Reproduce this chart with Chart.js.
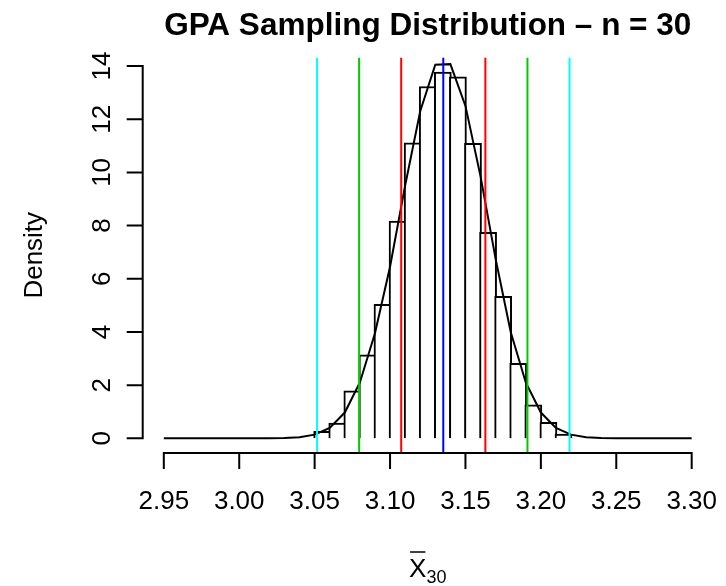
<!DOCTYPE html>
<html>
<head>
<meta charset="utf-8">
<script src="https://cdn.jsdelivr.net/npm/chart.js@4.4.1/dist/chart.umd.min.js"></script>
<style>
  html, body { margin: 0; padding: 0; background: #ffffff; }
  #wrap { width: 726px; height: 586px; }
</style>
</head>
<body>
<div id="wrap"><canvas id="c" width="726" height="586"></canvas></div>
<script>
// ---------------- data ----------------
const titleText = "GPA Sampling Distribution \u2013 n = 30";
const yTitle = "Density";

// histogram: bin midpoints (width 0.01) and densities
const binMids = [3.055, 3.065, 3.075, 3.085, 3.095, 3.105, 3.115, 3.125, 3.135,
                 3.145, 3.155, 3.165, 3.175, 3.185, 3.195, 3.205, 3.215];
const binDensity = [0.26, 0.57, 1.79, 3.14, 5.04, 8.17, 11.11, 13.23, 13.77,
                    13.59, 11.09, 7.75, 5.34, 2.82, 1.26, 0.60, 0.16];

// density curve points
const curveX = [2.95, 2.96, 2.97, 2.98, 2.99, 3.00, 3.01, 3.02, 3.03, 3.04, 3.05, 3.06,
                3.07, 3.08, 3.09, 3.10, 3.11, 3.12, 3.13, 3.14, 3.15, 3.16, 3.17, 3.18,
                3.19, 3.20, 3.21, 3.22, 3.23, 3.24, 3.25, 3.26, 3.27, 3.28, 3.29, 3.30];
const curveY = [0, 0, 0, 0, 0, 0, 0, 0.003, 0.012, 0.045, 0.14, 0.39,
                0.97, 2.10, 3.95, 6.45, 9.50, 12.30, 14.05, 14.07, 12.50, 9.85, 6.75, 4.00,
                2.10, 0.97, 0.39, 0.14, 0.045, 0.012, 0.003, 0, 0, 0, 0, 0];

// reference lines: mean -3sd .. mean +3sd
const refLines = [3.0516, 3.0795, 3.1074, 3.1353, 3.1632, 3.1911, 3.2190];

// ticks
const xTicks = [2.95, 3.00, 3.05, 3.10, 3.15, 3.20, 3.25, 3.30];
const xTickLabels = ["2.95", "3.00", "3.05", "3.10", "3.15", "3.20", "3.25", "3.30"];
const yTicks = [0, 2, 4, 6, 8, 10, 12, 14];
const yTickLabels = ["0", "2", "4", "6", "8", "10", "12", "14"];

// ---------------- styling ----------------
const refColors = ["#00FFFF", "#00CD00", "#FF0000", "#0000FF", "#FF0000", "#00CD00", "#00FFFF"];
const FONT = '"Liberation Sans", Arial, Helvetica, sans-serif';
const X_MIN = 2.936, X_MAX = 3.314, Y_MIN = -0.551, Y_MAX = 14.32;
const PAD = {left: 142.7, right: 13.2, top: 57.5, bottom: 133};
const BIN_W = 0.01;
const LW = 2;
// bar thickness: one bin in pixels plus one line width so neighbouring borders coincide
const barPx = BIN_W * (726 - PAD.left - PAD.right) / (X_MAX - X_MIN) + LW;

const datasets = [];
refLines.forEach((v, i) => {
  datasets.push({
    type: 'line',
    data: [{x: v, y: Y_MIN}, {x: v, y: Y_MAX}],
    borderColor: refColors[i],
    borderWidth: LW,
    pointRadius: 0,
    order: 0
  });
});
datasets.push({
  type: 'line',
  data: curveX.map((v, i) => ({x: v, y: curveY[i]})),
  borderColor: '#000000',
  borderWidth: LW,
  pointRadius: 0,
  tension: 0,
  order: 1
});
datasets.push({
  type: 'bar',
  data: binMids.map((v, i) => ({x: v, y: binDensity[i]})),
  backgroundColor: '#ffffff',
  borderColor: '#000000',
  borderWidth: {top: LW, left: LW, right: LW, bottom: 0},
  borderSkipped: false,
  barThickness: barPx,
  order: 2
});

const rAxes = {
  id: 'rAxes',
  afterDraw(chart) {
    const {ctx, chartArea: a, scales: {x, y}} = chart;
    ctx.save();
    ctx.strokeStyle = '#000';
    ctx.fillStyle = '#000';
    ctx.lineWidth = LW;
    ctx.lineCap = 'square';
    // x axis
    const yb = a.bottom;
    ctx.beginPath();
    ctx.moveTo(x.getPixelForValue(xTicks[0]), yb);
    ctx.lineTo(x.getPixelForValue(xTicks[xTicks.length - 1]), yb);
    xTicks.forEach(v => {
      const p = x.getPixelForValue(v);
      ctx.moveTo(p, yb); ctx.lineTo(p, yb + 15);
    });
    ctx.stroke();
    // y axis
    const xl = a.left;
    ctx.beginPath();
    ctx.moveTo(xl, y.getPixelForValue(yTicks[0]));
    ctx.lineTo(xl, y.getPixelForValue(yTicks[yTicks.length - 1]));
    yTicks.forEach(v => {
      const p = y.getPixelForValue(v);
      ctx.moveTo(xl, p); ctx.lineTo(xl - 15, p);
    });
    ctx.stroke();

    // x tick labels
    ctx.font = '26px ' + FONT;
    ctx.textAlign = 'center';
    ctx.textBaseline = 'alphabetic';
    xTicks.forEach((v, i) => {
      ctx.fillText(xTickLabels[i], x.getPixelForValue(v), 509);
    });
    // y tick labels (rotated)
    yTicks.forEach((v, i) => {
      ctx.save();
      ctx.translate(110, y.getPixelForValue(v));
      ctx.rotate(-Math.PI / 2);
      ctx.fillText(yTickLabels[i], 0, 0);
      ctx.restore();
    });
    // y title
    ctx.save();
    ctx.translate(42, (a.top + a.bottom) / 2);
    ctx.rotate(-Math.PI / 2);
    ctx.fillText(yTitle, 0, 0);
    ctx.restore();

    // x title: X-bar with subscript 30
    const cx = (a.left + a.right) / 2;
    ctx.font = '26px ' + FONT;
    const wX = ctx.measureText('X').width;
    ctx.font = '18px ' + FONT;
    const wS = ctx.measureText('30').width;
    const x0 = cx - (wX + wS) / 2;
    ctx.textAlign = 'left';
    ctx.font = '26px ' + FONT;
    ctx.fillText('X', x0, 577);
    ctx.font = '18px ' + FONT;
    ctx.fillText('30', x0 + wX, 583);
    ctx.lineWidth = 1.5;
    ctx.lineCap = 'butt';
    ctx.beginPath();
    ctx.moveTo(x0 + 1, 552);
    ctx.lineTo(x0 + wX - 1, 552);
    ctx.stroke();

    // main title
    ctx.font = 'bold 31.5px ' + FONT;
    ctx.textAlign = 'center';
    ctx.fillText(titleText, cx, 35);
    ctx.restore();
  }
};

new Chart(document.getElementById('c'), {
  type: 'line',
  data: {datasets},
  options: {
    responsive: false,
    animation: false,
    layout: {padding: PAD},
    plugins: {legend: {display: false}, tooltip: {enabled: false}, title: {display: false}},
    scales: {
      x: {
        type: 'linear', min: X_MIN, max: X_MAX, offset: false, display: false,
        afterBuildTicks: s => { s.ticks = xTicks.map(v => ({value: v})); }
      },
      y: {
        type: 'linear', min: Y_MIN, max: Y_MAX, display: false,
        afterBuildTicks: s => { s.ticks = yTicks.map(v => ({value: v})); }
      }
    }
  },
  plugins: [rAxes]
});
</script>
</body>
</html>
